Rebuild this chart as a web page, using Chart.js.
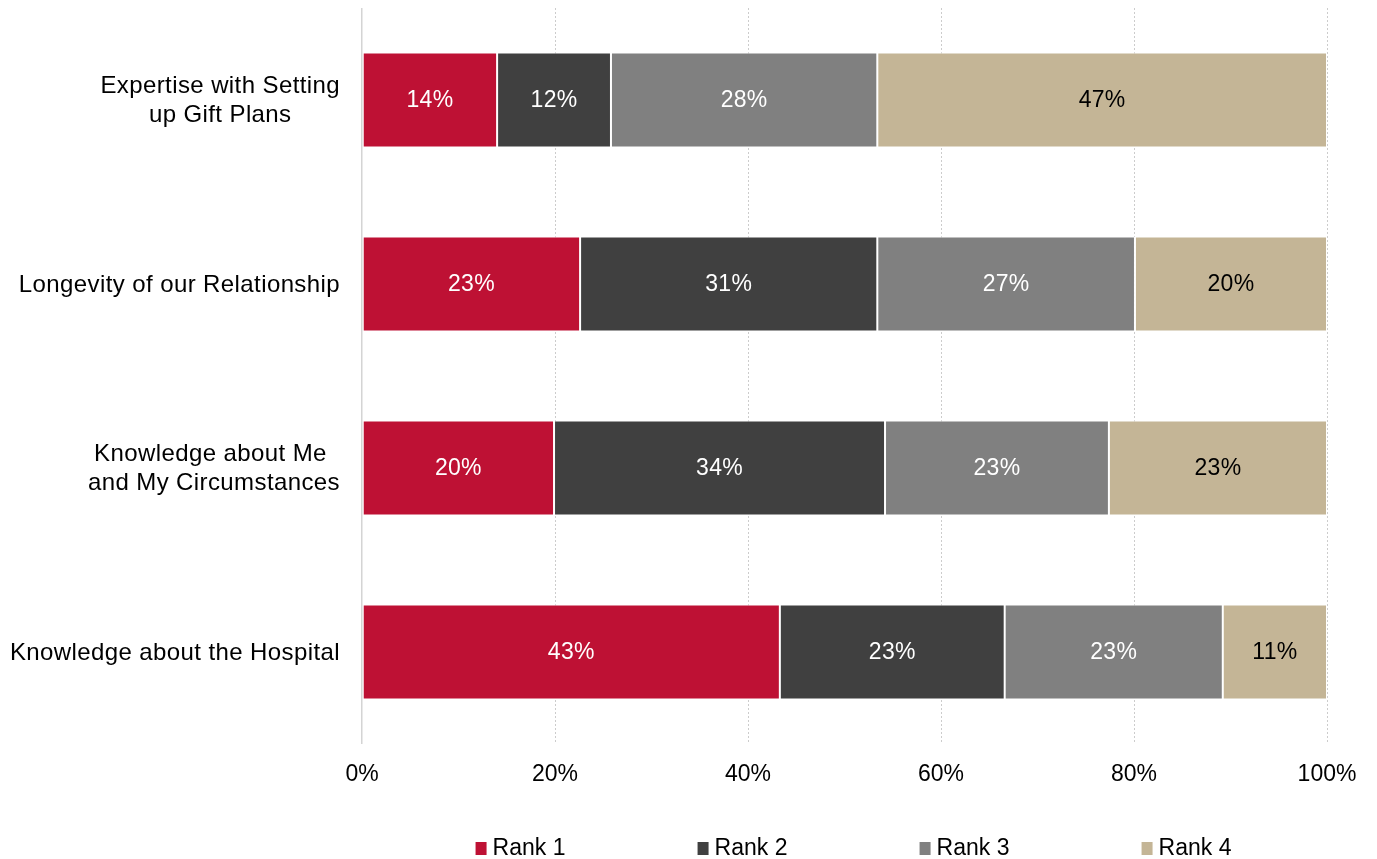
<!DOCTYPE html>
<html>
<head>
<meta charset="utf-8">
<script src="https://cdn.jsdelivr.net/npm/chart.js@4/dist/chart.umd.min.js"></script>
<style>
  html, body { margin: 0; padding: 0; background: #ffffff; }
  #wrap { width: 1377px; height: 859px; }
</style>
</head>
<body>
<div id="wrap"><canvas id="c" width="1377" height="859"></canvas></div>
<script>
// Categories (multi-line labels are arrays of lines)
const categories = [
  ['Expertise with Setting', 'up Gift Plans'],
  'Longevity of our Relationship',
  ['Knowledge about Me ', 'and My Circumstances'],
  'Knowledge about the Hospital'
];
const seriesNames = ['Rank 1', 'Rank 2', 'Rank 3', 'Rank 4'];

// Share of respondents (%) per rank
const rank1 = [14.0, 22.6, 19.9, 43.3];
const rank2 = [11.8, 30.8, 34.3, 23.3];
const rank3 = [27.6, 26.7, 23.2, 22.6];
const rank4 = [46.6, 19.9, 22.6, 10.8];

// Axis ticks
const tickValues = [0, 20, 40, 60, 80, 100];

const seriesColors = ['#BE1134', '#404040', '#808080', '#C4B596'];
const labelColors = ['#ffffff', '#ffffff', '#ffffff', '#000000'];
const FONT = '"Liberation Sans", Arial, sans-serif';

// Value labels centred inside each bar segment
const valueLabels = {
  id: 'valueLabels',
  afterDatasetsDraw(chart) {
    const ctx = chart.ctx;
    ctx.save();
    ctx.font = '23px ' + FONT;
    ctx.letterSpacing = '0.3px';
    ctx.textAlign = 'center';
    ctx.textBaseline = 'middle';
    chart.data.datasets.forEach((ds, di) => {
      const meta = chart.getDatasetMeta(di);
      meta.data.forEach((bar, i) => {
        const v = ds.data[i];
        const cx = (bar.x + bar.base) / 2;
        ctx.fillStyle = labelColors[di];
        ctx.fillText(Math.round(v) + '%', cx, bar.y + 1);
      });
    });
    ctx.letterSpacing = '0px';
    ctx.restore();
  }
};

// Category labels: block right-aligned to the axis, lines centred within the block
const categoryLabels = {
  id: 'categoryLabels',
  afterDraw(chart) {
    const ctx = chart.ctx;
    const y = chart.scales.y;
    const right = chart.chartArea.left - 22;
    const lineH = 28.5;
    ctx.save();
    ctx.font = '24px ' + FONT;
    ctx.letterSpacing = '0.4px';
    ctx.fillStyle = '#000000';
    ctx.textBaseline = 'middle';
    ctx.textAlign = 'center';
    chart.data.labels.forEach((lab, i) => {
      const lines = Array.isArray(lab) ? lab : [lab];
      const w = Math.max(...lines.map(l => ctx.measureText(l).width));
      const cx = right - w / 2;
      const cy = y.getPixelForValue(i);
      const y0 = cy - (lines.length - 1) * lineH / 2;
      lines.forEach((l, k) => ctx.fillText(l, cx, y0 + k * lineH + 1));
    });
    ctx.letterSpacing = '0px';
    ctx.restore();
  }
};

// Legend row below the axis
const bottomLegend = {
  id: 'bottomLegend',
  afterDraw(chart) {
    const ctx = chart.ctx;
    const stride = 222, box = 11, gap = 6;
    ctx.save();
    ctx.font = '23px ' + FONT;
    ctx.textBaseline = 'middle';
    ctx.textAlign = 'left';
    const lastW = box + gap + ctx.measureText(seriesNames[seriesNames.length - 1]).width;
    const total = stride * (seriesNames.length - 1) + lastW;
    const center = (chart.chartArea.left + chart.chartArea.right) / 2 + 9;
    const start = center - total / 2;
    const cy = 848;
    chart.data.datasets.forEach((ds, i) => {
      const x = start + i * stride;
      ctx.fillStyle = ds.backgroundColor;
      ctx.fillRect(x, cy - 6, box, 13);
      ctx.fillStyle = '#000000';
      ctx.fillText(ds.label, x + box + gap, cy + 1);
    });
    ctx.restore();
  }
};

const datasets = [rank1, rank2, rank3, rank4].map((vals, i) => ({
  label: seriesNames[i],
  data: vals,
  backgroundColor: seriesColors[i],
  borderColor: '#ffffff',
  borderWidth: 1,
  borderSkipped: false,
  categoryPercentage: 1,
  barPercentage: 0.516
}));

new Chart(document.getElementById('c'), {
  type: 'bar',
  data: { labels: categories, datasets },
  plugins: [valueLabels, categoryLabels, bottomLegend],
  options: {
    responsive: false,
    devicePixelRatio: 1,
    animation: false,
    indexAxis: 'y',
    layout: { padding: { top: 8, left: 0, right: 50, bottom: 0 } },
    plugins: {
      legend: { display: false },
      tooltip: { enabled: false },
      title: { display: false }
    },
    scales: {
      x: {
        stacked: true,
        min: 0,
        max: 100,
        afterBuildTicks(scale) {
          scale.ticks = tickValues.map(v => ({ value: v }));
        },
        afterFit(scale) { scale.height = 115; },
        grid: {
          drawTicks: false,
          lineWidth: ctx => ctx.index === 0 ? 1.5 : 1,
          color: ctx => ctx.index === 0 ? '#d4d4d4' : '#cccccc'
        },
        border: {
          display: false,
          dash: ctx => ctx.index === 0 ? [] : [2, 2]
        },
        ticks: {
          padding: 17,
          color: '#000000',
          font: { family: FONT, size: 23 },
          callback: v => v + '%'
        }
      },
      y: {
        stacked: true,
        afterFit(scale) { scale.width = 362; },
        grid: { display: false },
        border: { display: false },
        ticks: { display: false }
      }
    }
  }
});
</script>
</body>
</html>
